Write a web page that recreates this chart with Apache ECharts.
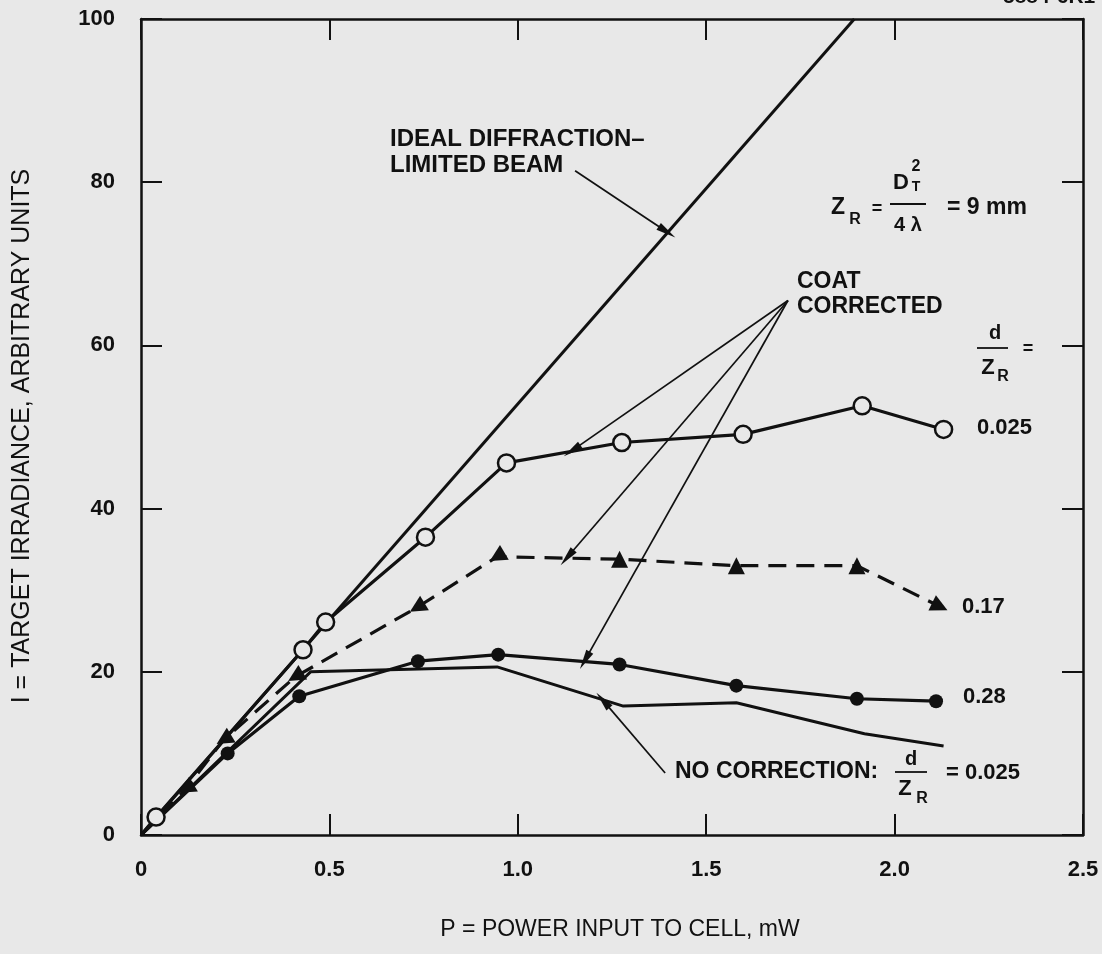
<!DOCTYPE html>
<html>
<head>
<meta charset="utf-8">
<title>Target irradiance vs power input</title>
<script src="https://cdn.jsdelivr.net/npm/echarts@6/dist/echarts.min.js"></script>
<style>
  html, body { margin: 0; padding: 0; background: #e8e8e8; }
  #chart { width: 1102px; height: 954px; }
</style>
</head>
<body>
<div id="chart"></div>
<script>
// Axis ticks
const xTicks = [0, 0.5, 1.0, 1.5, 2.0, 2.5];
const yTicks = [0, 20, 40, 60, 80, 100];

// P (mW), I (arbitrary units)
const idealBeam = [[0, 0], [1.893, 100]];
const coat025 = [[0, 0], [0.04, 2.2], [0.43, 22.7], [0.49, 26.1], [0.755, 36.5], [0.97, 45.6], [1.276, 48.1], [1.598, 49.1], [1.914, 52.6], [2.13, 49.7]];
const coat017 = [[0, 0], [0.12, 5.7], [0.22, 11.7], [0.41, 19.4], [0.733, 27.9], [0.945, 34.1], [1.27, 33.8], [1.58, 33.0], [1.90, 33.0], [2.12, 28.0]];
const coat017Rotate = [0, 121, 121, 121, 121, 121, 0, 0, 0, -116];
const coat028 = [[0, 0], [0.23, 10.0], [0.42, 17.0], [0.735, 21.3], [0.948, 22.1], [1.27, 20.9], [1.58, 18.3], [1.90, 16.7], [2.11, 16.4]];
const noCorrection = [[0, 0], [0.45, 20.0], [0.945, 20.6], [1.28, 15.8], [1.58, 16.2], [1.92, 12.4], [2.13, 10.9]];

// Pointer lines: [from, to] in data units
const pointers = [
  [[1.152, 81.4], [1.396, 73.9]],
  [[1.717, 65.5], [1.144, 47.1]],
  [[1.717, 65.5], [1.131, 34.0]],
  [[1.717, 65.5], [1.178, 21.4]],
  [[1.391, 7.6], [1.226, 16.5]]
];

const INK = '#111111';
const BG = '#e8e8e8';
const FONT = '"Liberation Sans", Arial, Helvetica, sans-serif';

function withBlankOrigin(arr, extra) {
  return arr.map((p, i) => {
    const item = { value: p };
    if (i === 0) item.symbol = 'none';
    if (extra) Object.assign(item, extra(i));
    return item;
  });
}

const chart = echarts.init(document.getElementById('chart'), null, { renderer: 'canvas' });

const tickAxisCommon = {
  axisLine: { show: true, onZero: false, lineStyle: { color: INK, width: 2.5 } },
  axisTick: { show: true, inside: true, length: 21, lineStyle: { color: INK, width: 2 } },
  splitLine: { show: false }
};

function text(x, y, str, opts) {
  return {
    type: 'text',
    x: x, y: y,
    silent: true,
    style: Object.assign({
      text: str,
      fill: INK,
      font: 'bold 22px ' + FONT,
      textAlign: 'left',
      textVerticalAlign: 'middle'
    }, opts || {})
  };
}

function bar(x1, x2, y) {
  return {
    type: 'line', silent: true,
    shape: { x1: x1, y1: y, x2: x2, y2: y },
    style: { stroke: INK, lineWidth: 1.8 }
  };
}

const SUB = 'bold 16px ' + FONT;

const option = {
  backgroundColor: BG,
  animation: false,
  grid: { left: 141, right: 19, top: 19, bottom: 119, containLabel: false, outerBoundsMode: 'none' },
  xAxis: [
    Object.assign({
      type: 'value', position: 'bottom', min: xTicks[0], max: xTicks[xTicks.length - 1], interval: 0.5,
      axisLabel: {
        margin: 24, color: INK, fontFamily: FONT, fontWeight: 'bold', fontSize: 22,
        formatter: v => (v === 0 ? '0' : v.toFixed(1))
      }
    }, tickAxisCommon),
    Object.assign({
      type: 'value', position: 'top', min: xTicks[0], max: xTicks[xTicks.length - 1], interval: 0.5,
      axisLabel: { show: false }
    }, tickAxisCommon)
  ],
  yAxis: [
    Object.assign({
      type: 'value', position: 'left', min: yTicks[0], max: yTicks[yTicks.length - 1], interval: 20,
      axisLabel: { margin: 26, color: INK, fontFamily: FONT, fontWeight: 'bold', fontSize: 22 }
    }, tickAxisCommon),
    Object.assign({
      type: 'value', position: 'right', min: yTicks[0], max: yTicks[yTicks.length - 1], interval: 20,
      axisLabel: { show: false }
    }, tickAxisCommon)
  ],
  series: [
    {
      name: 'Ideal diffraction-limited beam',
      type: 'line', data: idealBeam, symbol: 'none', silent: true,
      lineStyle: { color: INK, width: 3 },
      markLine: {
        silent: true,
        symbol: ['none', 'path://M5,0L10,22L0,22Z'],
        label: { show: false },
        emphasis: { disabled: true },
        lineStyle: { color: INK, width: 1.7, type: 'solid' },
        data: pointers.map(([a, b]) => [
          { coord: a, symbol: 'none' },
          { coord: b, symbol: 'path://M5,0L10,22L0,22Z', symbolSize: [8, 20] }
        ])
      }
    },
    {
      name: 'No correction d/ZR = 0.025',
      type: 'line', data: withBlankOrigin(noCorrection), symbol: 'none', silent: true,
      lineStyle: { color: INK, width: 3 }
    },
    {
      name: 'COAT d/ZR = 0.28',
      type: 'line', data: withBlankOrigin(coat028), symbol: 'circle', symbolSize: 14, silent: true,
      lineStyle: { color: INK, width: 3.2 },
      itemStyle: { color: INK }
    },
    {
      name: 'COAT d/ZR = 0.17',
      type: 'line', silent: true,
      data: withBlankOrigin(coat017, i => ({ symbolRotate: coat017Rotate[i] })),
      symbol: 'triangle', symbolSize: 17,
      lineStyle: { color: INK, width: 3.2, type: [18, 10] },
      itemStyle: { color: INK }
    },
    {
      name: 'COAT d/ZR = 0.025',
      type: 'line', data: withBlankOrigin(coat025), symbol: 'circle', symbolSize: 17, silent: true,
      lineStyle: { color: INK, width: 3.2 },
      itemStyle: { color: BG, borderColor: INK, borderWidth: 2.5 }
    }
  ],
  graphic: [
    // figure number, cut at the page edge
    text(1003, 8, '5884-6R1', { textVerticalAlign: 'bottom', font: 'bold 21px ' + FONT }),
    // axis titles
    text(620, 930, 'P = POWER INPUT TO CELL, mW', { textAlign: 'center', font: '23px ' + FONT }),
    {
      type: 'text', x: 22, y: 436, rotation: Math.PI / 2, silent: true,
      style: { text: 'I = TARGET IRRADIANCE, ARBITRARY UNITS', fill: INK, font: '25px ' + FONT,
               textAlign: 'center', textVerticalAlign: 'middle' }
    },
    // ideal beam label
    text(390, 139, 'IDEAL DIFFRACTION\u2013', { font: 'bold 24px ' + FONT }),
    text(390, 165, 'LIMITED BEAM', { font: 'bold 24px ' + FONT }),
    // coat corrected label
    text(797, 282, 'COAT', { font: 'bold 23px ' + FONT }),
    text(797, 307, 'CORRECTED', { font: 'bold 23px ' + FONT }),
    // Rayleigh range formula
    text(838, 208, 'Z', { textAlign: 'center', font: 'bold 23px ' + FONT }),
    text(855, 220, 'R', { textAlign: 'center', font: SUB }),
    text(877, 209, '=', { textAlign: 'center', font: 'bold 18px ' + FONT }),
    text(901, 183, 'D', { textAlign: 'center' }),
    text(916, 167, '2', { textAlign: 'center', font: SUB }),
    text(916, 187, 'T', { textAlign: 'center', font: 'bold 14px ' + FONT }),
    bar(890, 926, 204),
    text(908, 225, '4 \u03bb', { textAlign: 'center', font: 'bold 20px ' + FONT }),
    text(947, 208, '= 9 mm', { font: 'bold 23px ' + FONT }),
    // d/ZR heading
    text(995, 333, 'd', { textAlign: 'center', font: 'bold 20px ' + FONT }),
    bar(977, 1008, 348),
    text(988, 368, 'Z', { textAlign: 'center' }),
    text(1003, 377, 'R', { textAlign: 'center', font: SUB }),
    text(1028, 349, '=', { textAlign: 'center', font: 'bold 18px ' + FONT }),
    // series values
    text(977, 428, '0.025'),
    text(962, 607, '0.17'),
    text(963, 697, '0.28'),
    // uncorrected label
    text(675, 772, 'NO CORRECTION:', { font: 'bold 23px ' + FONT }),
    text(911, 759, 'd', { textAlign: 'center', font: 'bold 20px ' + FONT }),
    bar(895, 927, 772),
    text(905, 789, 'Z', { textAlign: 'center' }),
    text(922, 799, 'R', { textAlign: 'center', font: SUB }),
    text(946, 773, '= 0.025', { font: 'bold 22px ' + FONT })
  ]
};

chart.setOption(option);
</script>
</body>
</html>
